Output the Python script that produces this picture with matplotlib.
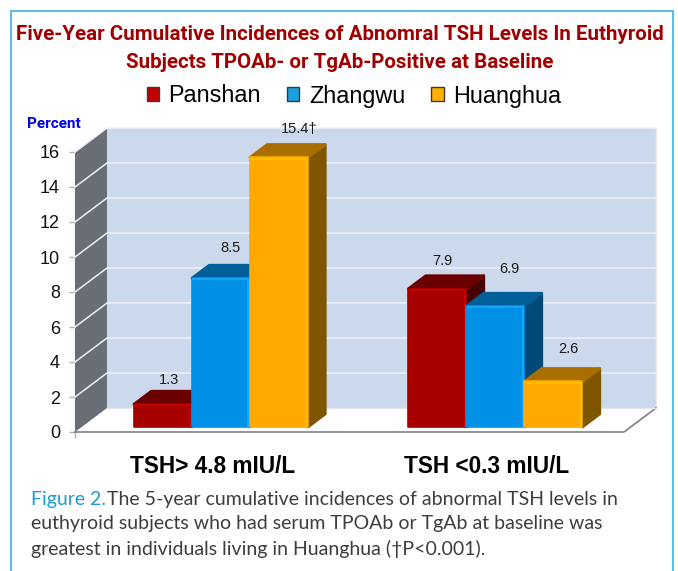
import numpy as np
import matplotlib
matplotlib.use("Agg")
import matplotlib.pyplot as plt
from matplotlib.patches import Polygon, Patch, Rectangle

cities = ["Panshan", "Zhangwu", "Huanghua"]
categories = ["TSH> 4.8 mIU/L", "TSH <0.3 mIU/L"]
panshan = [1.3, 7.9]
zhangwu = [8.5, 6.9]
huanghua = [15.4, 2.6]
bar_labels = [["1.3", "7.9"], ["8.5", "6.9"], ["15.4\u2020", "2.6"]]
y_ticks = [0, 2, 4, 6, 8, 10, 12, 14, 16]

# label offsets from the top middle of the bar front, in px
label_dx = [[6, 5], [10, 14], [20, 15]]
label_dy = [[24, 28], [30, 37], [28, 32]]

front_colors = ["#a60000", "#0091e6", "#ffa800"]
top_colors = ["#6b0000", "#005f99", "#a86f00"]
side_colors = ["#470000", "#004a78", "#805500"]
rim_colors = ["#c80000", "#19aaff", "#ffc400"]
swatch_colors = ["#c40000", "#1b9fe0", "#ffb000"]

W, H = 678, 571
plt.rcParams["font.family"] = ["Liberation Sans", "DejaVu Sans"]

fig = plt.figure(figsize=(W / 100, H / 100), dpi=100)
ax = fig.add_axes([75 / W, 1 - 432 / H, 549 / W, 280 / H])
ax.set_xlim(-0.5, 1.5)
ax.set_ylim(0, 16)
ax.patch.set_visible(False)
for s in ax.spines.values():
    s.set_visible(False)

# depth of the fake 3d box, in data units
box_dx = 32 / 549 * 2
box_dy = 24 / 280 * 16
bar_w = 58 / 549 * 2
nudge = 2 / 549 * 2
d0 = 0.21
d1 = 0.75


def pr(x, y, d):
    return (x + d * box_dx, y + d * box_dy)


def poly(pts, color, z, lw=0.0, ec=None):
    ax.add_patch(Polygon(pts, closed=True, facecolor=color, edgecolor=ec or color,
                         linewidth=lw, joinstyle="round", zorder=z, clip_on=False))


# walls and floor
poly([pr(-0.5, 0, 1), pr(1.5, 0, 1), pr(1.5, 16, 1), pr(-0.5, 16, 1)], "#ccd9ec", 1)
poly([pr(-0.5, 0, 0), pr(-0.5, 0, 1), pr(-0.5, 16, 1), pr(-0.5, 16, 0)], "#686d76", 1)
ax.plot(*zip(pr(1.5, 0, 1), pr(1.5, 16, 1)), color="#e6e9ee", lw=1, zorder=2, clip_on=False)
ax.plot(*zip(pr(-0.5, 0, 0), pr(1.5, 0, 0), pr(1.5, 0, 1)), color="#808080", lw=1.2, zorder=2, clip_on=False)
ax.plot(*zip(pr(-0.5, 0, 1), pr(1.5, 0, 1)), color="#e3e6ea", lw=1, zorder=2, clip_on=False)

for t in y_ticks[1:]:
    ax.plot(*zip(pr(-0.5, t, 0), pr(-0.5, t, 1), pr(1.5, t, 1)), color="#eef1f6", lw=1.1, zorder=2, clip_on=False)

# bars
series = [panshan, zhangwu, huanghua]
for j, vals in enumerate(series):
    xs = np.arange(len(categories)) + (j - 1) * bar_w + nudge
    xf = xs + d0 * box_dx
    base = d0 * box_dy
    z = 5 + j * 2
    for i, (x, v) in enumerate(zip(xs, vals)):
        l, r = x - bar_w / 2, x + bar_w / 2
        poly([pr(r, 0, d0), pr(r, 0, d1), pr(r, v, d1), pr(r, v, d0)], side_colors[j], z, 2)
        poly([pr(l, v, d0), pr(r, v, d0), pr(r, v, d1), pr(l, v, d1)], top_colors[j], z, 2)
        ax.plot(*zip(pr(r, v + 0.08, d0 + 0.05), pr(r, v, d1 - 0.05)), color=top_colors[j], lw=2, zorder=z, clip_on=False)
        ax.annotate(bar_labels[j][i], xy=(x + d0 * box_dx, v + base),
                    xytext=(label_dx[j][i] * 0.72, label_dy[j][i] * 0.72), textcoords="offset points",
                    ha="center", va="center", fontsize=10.5, color="#1a1a1a", zorder=20, annotation_clip=False)
    ax.bar(xf, vals, width=bar_w, bottom=base, color=front_colors[j], edgecolor=front_colors[j],
           linewidth=1.2, zorder=z + 1, clip_on=False, joinstyle="round")
    for x, v in zip(xf, vals):
        top = v + base
        ax.plot([x - bar_w / 2 + 0.004, x + bar_w / 2 - 0.006, x + bar_w / 2 - 0.006],
                [top - 0.07, top - 0.07, base], color=rim_colors[j],
                lw=1.2, zorder=z + 1, clip_on=False)

ax.set_yticks(y_ticks)
ax.set_xticks([-0.5])
ax.set_xticklabels([""])
ax.tick_params(axis="y", length=4.3, width=1, color="#b0b0b0", labelsize=13, pad=6.5, labelcolor="#111111")
ax.tick_params(axis="x", length=4.3, width=1, color="#b0b0b0")

for i, c in enumerate(categories):
    ax.text(i, -1.98, c, ha="center", va="center", fontsize=16.3, fontweight="bold", color="black")

ax.text(-0.5 - 21 / 137 / 2, 16.0 + 1.58, "Percent", fontsize=11, fontweight="bold", color="#0000ee",
        family=["Roboto", "Liberation Sans"], ha="center", va="center")

# legend
handles = [Patch(facecolor=c, edgecolor="#3a3a3a", linewidth=1) for c in swatch_colors]
fig.legend(handles, cities, loc="center", bbox_to_anchor=(354 / W, 1 - 96 / H), ncol=3, frameon=False,
           fontsize=16.8, handlelength=0.52, handleheight=0.52, handletextpad=0.42, columnspacing=1.12)

# title
title_kw = dict(ha="center", va="center", fontsize=14.8, fontweight="bold", color="#a00000",
                family=["Roboto", "Liberation Sans"])
fig.text(340 / W, 1 - 35 / H, "Five-Year Cumulative Incidences of Abnomral TSH Levels In Euthyroid", **title_kw)
fig.text(340 / W, 1 - 62 / H, "Subjects TPOAb- or TgAb-Positive at Baseline", **title_kw)

# panel frame
fig.add_artist(Rectangle((11 / W, -0.02), 662 / W, 1 - 11 / H + 0.02, transform=fig.transFigure, fill=False,
                         edgecolor="#35b4e0", linewidth=1.2))

# caption
cap_kw = dict(family=["Lato", "DejaVu Sans"], fontsize=14, color="#3d3d3d", va="center", ha="left")
fig.text(31 / W, 1 - 499 / H, "Figure 2.", **{**cap_kw, "color": "#1e9bd0"})
fig.text(107 / W, 1 - 499 / H, "The 5-year cumulative incidences of abnormal TSH levels in", **cap_kw)
fig.text(31 / W, 1 - 524 / H, "euthyroid subjects who had serum TPOAb or TgAb at baseline was", **cap_kw)
fig.text(31 / W, 1 - 549 / H, "greatest in individuals living in Huanghua (\u2020P<0.001).", **cap_kw)

fig.savefig("out.png", dpi=100)
